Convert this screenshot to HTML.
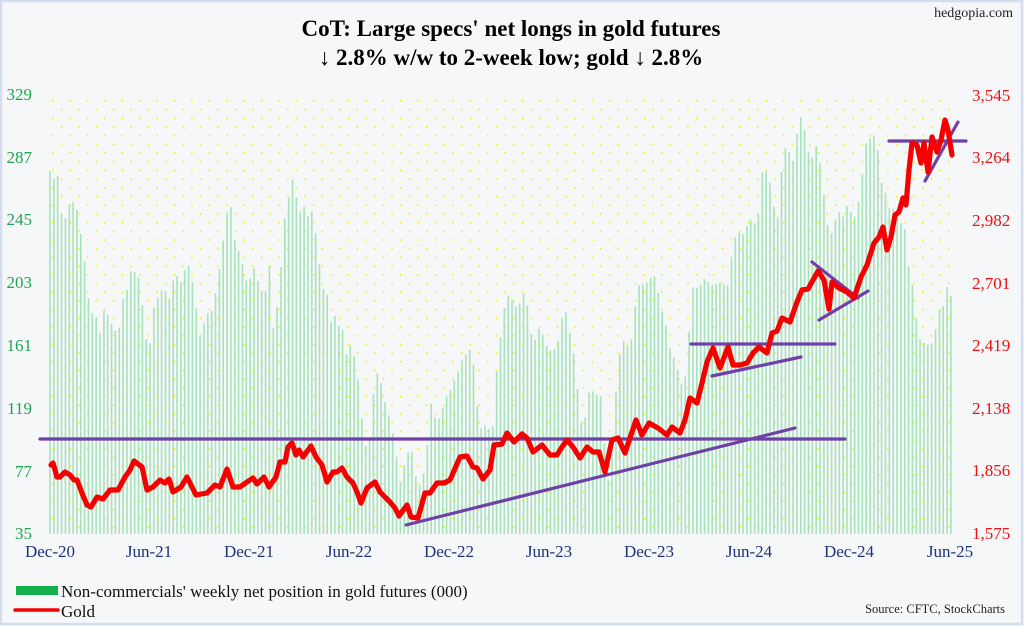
<!DOCTYPE html>
<html><head><meta charset="utf-8"><style>
html,body{margin:0;padding:0;background:#f6f7f9;}
#c{width:1024px;height:626px;position:relative;overflow:hidden;}
</style></head><body><div id="c"><svg id="s" width="1024" height="626" xmlns="http://www.w3.org/2000/svg" font-family="Liberation Serif, serif">
<defs><pattern id="dots" x="52" y="100" width="17.4" height="17.4" patternUnits="userSpaceOnUse">
<rect x="0" y="0" width="1.6" height="1.6" fill="#f2f000"/><rect x="8.7" y="8.7" width="1.6" height="1.6" fill="#f2f000"/></pattern></defs>
<rect x="0" y="0" width="1024" height="626" fill="#f6f7f9"/>
<rect x="1" y="1" width="1021" height="623" fill="none" stroke="#d3ddef" stroke-width="2.5"/>
<rect x="52" y="98" width="905" height="436" fill="url(#dots)"/>
<g id="bars" stroke="#a6e3bd" stroke-width="1.6"></g>
<g stroke="#7040a8" stroke-width="3.2" stroke-linecap="round">
<line x1="40" y1="439" x2="845" y2="439"/>
<line x1="406" y1="525" x2="795" y2="428"/>
<line x1="691" y1="344" x2="835" y2="344"/>
<line x1="712" y1="376" x2="801" y2="357"/>
<line x1="812" y1="262" x2="858" y2="298"/>
<line x1="819" y1="320" x2="868" y2="291"/>
<line x1="889" y1="141" x2="966" y2="141"/>
<line x1="925" y1="181" x2="958" y2="122"/>
</g>
<polyline id="gold" fill="none" stroke="#f40000" stroke-width="5.2" stroke-linejoin="round" stroke-linecap="round" points=""/>
<g fill="#1ea352" font-size="17" text-anchor="end">
<text x="32" y="100">329</text><text x="32" y="163">287</text><text x="32" y="225">245</text><text x="32" y="288">203</text><text x="32" y="351">161</text><text x="32" y="414">119</text><text x="32" y="477">77</text><text x="32" y="539">35</text></g>
<g fill="#f01010" font-size="17">
<text x="972" y="101">3,545</text><text x="972" y="163">3,264</text><text x="972" y="226">2,982</text><text x="972" y="289">2,701</text><text x="972" y="351">2,419</text><text x="972" y="414">2,138</text><text x="972" y="476">1,856</text><text x="972" y="539">1,575</text></g>
<g fill="#1c3478" font-size="17" text-anchor="middle">
<text x="50" y="557">Dec-20</text><text x="149" y="557">Jun-21</text><text x="249" y="557">Dec-21</text><text x="349" y="557">Jun-22</text><text x="449" y="557">Dec-22</text><text x="549" y="557">Jun-23</text><text x="649" y="557">Dec-23</text><text x="749" y="557">Jun-24</text><text x="849" y="557">Dec-24</text><text x="950" y="557">Jun-25</text></g>
<g font-weight="bold" font-size="23" text-anchor="middle" fill="#000">
<text x="511" y="36">CoT: Large specs' net longs in gold futures</text>
<text x="511" y="65">↓ 2.8% w/w to 2-week low; gold ↓ 2.8%</text></g>
<text x="1013" y="17" font-size="14" text-anchor="end" fill="#222">hedgopia.com</text>
<rect x="16" y="586" width="42" height="9" fill="#11b04a"/>
<text x="61" y="597" font-size="17" fill="#111">Non-commercials' weekly net position in gold futures (000)</text>
<line x1="15" y1="610" x2="58" y2="610" stroke="#f40000" stroke-width="3.5" stroke-linecap="round"/>
<text x="61" y="617" font-size="17" fill="#111">Gold</text>
<text x="1005" y="613" font-size="12.5" text-anchor="end" fill="#222">Source: CFTC, StockCharts</text>
</svg></div>
<script>
var B=[[50,171],[52,185],[57,169],[62,218],[66,218],[70,202],[74,202],[77,210],[81,235],[85,264],[89,303],[93,315],[97,318],[100,333],[105,304],[108,316],[112,325],[115,331],[119,330],[123,299],[127,290],[132,266],[135,273],[138,274],[142,300],[145,338],[150,344],[154,307],[160,292],[164,288],[170,300],[175,270],[180,285],[184,272],[188,263],[192,279],[196,306],[200,336],[207,314],[213,310],[220,265],[227,213],[230,198],[234,237],[238,249],[242,262],[247,283],[250,279],[254,268],[260,288],[265,297],[269,258],[273,330],[277,308],[281,267],[284,223],[288,202],[292,177],[296,195],[299,216],[303,202],[307,219],[311,207],[315,228],[319,261],[323,289],[327,293],[330,325],[334,313],[338,326],[342,325],[346,356],[349,343],[353,351],[357,369],[361,411],[365,445],[369,448],[372,402],[377,373],[380,377],[384,399],[388,411],[392,432],[395,438],[399,488],[403,470],[407,455],[411,446],[415,472],[418,490],[422,477],[426,468],[430,398],[433,413],[437,422],[441,415],[445,398],[449,394],[453,383],[457,375],[461,362],[464,357],[468,352],[472,347],[476,394],[480,429],[483,427],[487,424],[492,437],[496,377],[499,350],[503,315],[507,295],[511,298],[514,303],[518,310],[522,294],[526,294],[529,318],[533,347],[537,333],[541,324],[545,348],[549,343],[552,358],[556,343],[560,339],[564,298],[568,327],[572,340],[576,373],[579,406],[583,434],[587,403],[591,382],[595,402],[599,385],[603,413],[606,478],[610,481],[614,418],[618,363],[622,343],[626,338],[629,354],[633,329],[637,288],[641,283],[645,286],[648,280],[652,277],[656,276],[660,305],[664,318],[668,333],[672,366],[676,346],[679,392],[683,379],[687,375],[691,292],[694,285],[698,289],[702,283],[706,277],[710,285],[714,285],[718,283],[722,282],[726,289],[729,282],[733,243],[737,233],[741,232],[744,235],[748,223],[752,218],[756,226],[760,206],[763,161],[768,178],[772,188],[776,229],[779,207],[783,151],[787,146],[791,157],[794,163],[798,123],[802,115],[806,138],[809,155],[813,158],[817,143],[821,170],[825,205],[829,235],[832,233],[837,213],[840,212],[843,217],[848,203],[852,216],[856,217],[860,193],[863,169],[867,137],[871,139],[875,134],[878,152],[882,186],[887,196],[891,217],[895,201],[898,214],[902,227],[906,230],[910,287],[913,284],[917,326],[921,343],[925,343],[929,345],[932,343],[936,327],[940,307],[943,307],[947,287],[951,296]];
function interp(x){for(var i=0;i<B.length-1;i++){if(x>=B[i][0]&&x<=B[i+1][0]){var t=(x-B[i][0])/((B[i+1][0]-B[i][0])||1);return B[i][1]+t*(B[i+1][1]-B[i][1]);}}return B[B.length-1][1];}
var g=document.getElementById('bars'),h='';
for(var x=50;x<=951.5;x+=3.85){var y=interp(x);h+='<line x1="'+x.toFixed(1)+'" y1="'+y.toFixed(1)+'" x2="'+x.toFixed(1)+'" y2="534"/>';}
g.innerHTML=h;
var G="51,465 53,463 57,477 60,477 65,472 70,475 74,480 77,480 82,493 87,505 91,507 97,497 103,499 110,490 118,490 125,477 130,470 134,461 142,467 147,490 153,487 160,480 165,483 169,479 173,492 181,487 187,477 196,495 207,493 215,485 220,487 227,469 233,487 240,487 247,482 253,478 257,484 264,477 269,487 276,477 280,462 285,462 288,447 292,443 296,455 299,450 303,457 311,446 316,457 322,465 327,482 333,472 337,472 342,468 347,477 353,483 357,492 361,503 367,488 375,482 380,492 385,497 390,502 395,508 399,516 407,505 411,517 418,518 425,493 430,493 437,483 444,483 450,480 460,457 467,456 473,467 477,468 483,479 490,470 494,445 502,444 507,433 514,442 522,434 527,438 533,452 542,445 550,455 557,455 562,447 567,440 573,447 580,458 587,447 593,452 599,452 605,472 612,440 618,438 625,453 636,420 642,435 649,423 658,428 667,435 672,427 680,433 685,420 690,398 697,403 702,383 707,362 713,348 720,368 728,347 733,365 740,365 747,363 753,353 759,347 767,353 772,333 777,331 782,318 790,322 797,302 802,290 808,289 813,280 818,271 824,280 829,309 832,282 839,288 847,292 854,298 861,277 867,265 874,243 879,237 883,227 887,250 891,237 895,215 899,212 903,198 906,205 909,170 912,143 917,145 921,163 924,143 928,172 932,137 937,152 941,140 945,120 948,130 952,155";
document.getElementById('gold').setAttribute('points',G);
</script></body></html>
